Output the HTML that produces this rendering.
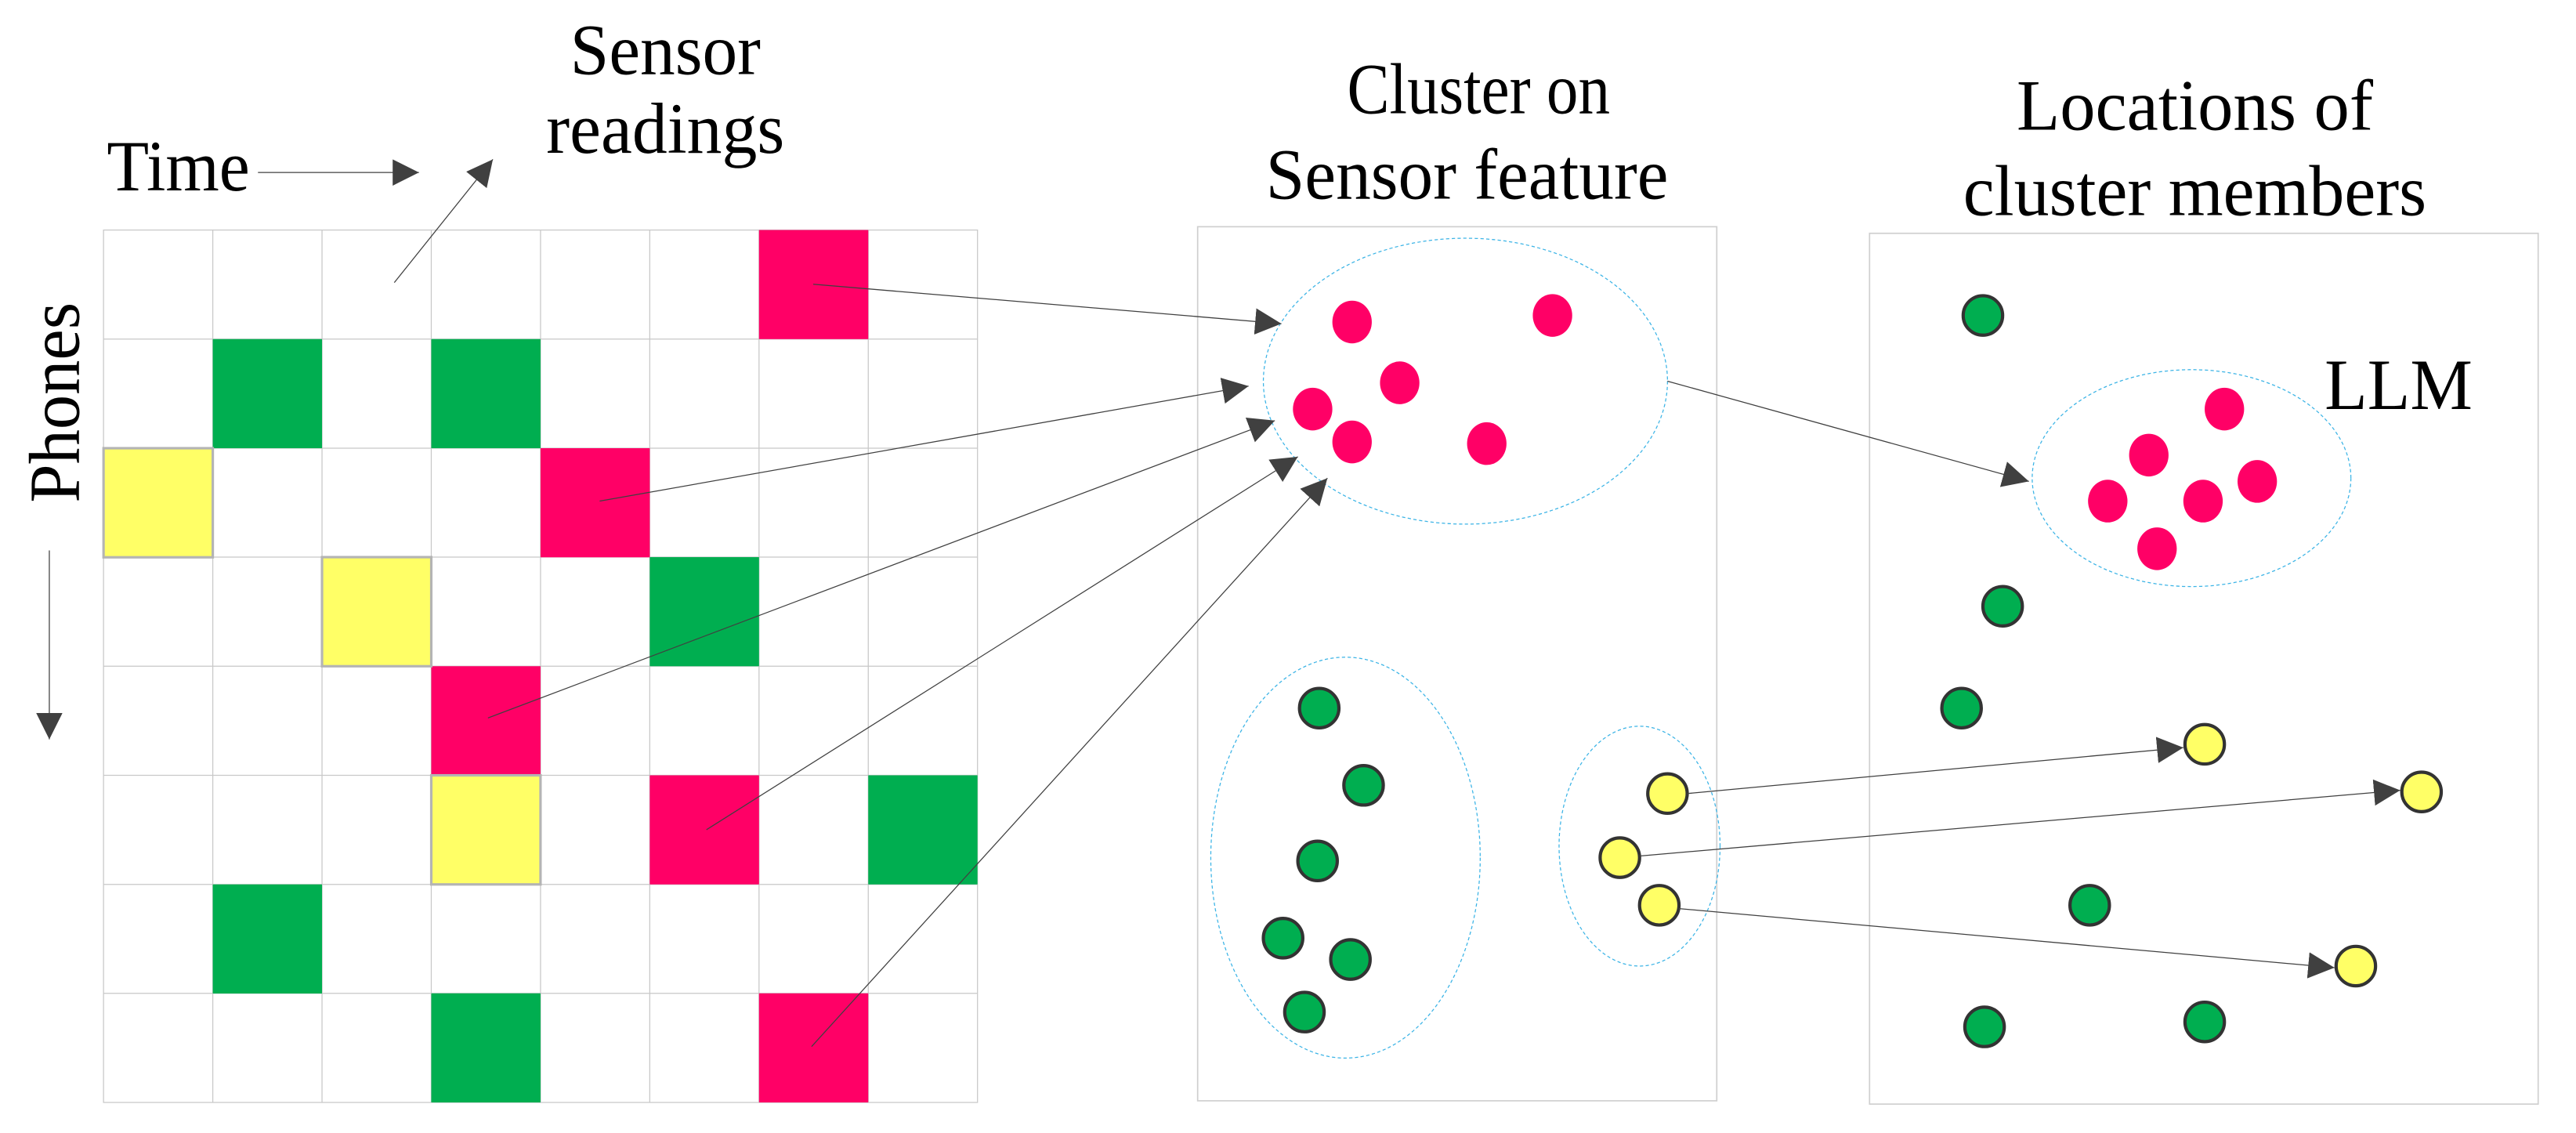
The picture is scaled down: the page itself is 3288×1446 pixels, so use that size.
<!DOCTYPE html>
<html><head><meta charset="utf-8"><style>html,body{margin:0;padding:0;background:#fff}svg{display:block}</style></head><body>
<svg width="3288" height="1446" viewBox="0 0 1568 689.6" xmlns="http://www.w3.org/2000/svg" font-family="Liberation Serif, serif">
<defs>
<marker id="a" viewBox="0 0 10 10" refX="10" refY="5" markerWidth="16" markerHeight="16" markerUnits="userSpaceOnUse" orient="auto"><path d="M0,0 L10,5 L0,10 z" fill="#404040"/></marker>
</defs>
<g stroke="#c8c8c8" stroke-width="0.6" fill="none">
<rect x="63" y="140" width="532" height="531"/>
<path d="M129.5 140V671M196 140V671M262.5 140V671M329 140V671M395.5 140V671M462 140V671M528.5 140V671"/>
<path d="M63 206.4H595M63 272.8H595M63 339.1H595M63 405.5H595M63 471.9H595M63 538.3H595M63 604.6H595"/>
</g>
<g fill="#FF0066">
<rect x="462" y="140" width="66.5" height="66.4"/>
<rect x="329" y="272.8" width="66.5" height="66.4"/>
<rect x="262.5" y="405.5" width="66.5" height="66.4"/>
<rect x="395.5" y="471.9" width="66.5" height="66.4"/>
<rect x="462" y="604.6" width="66.5" height="66.4"/>
</g>
<g fill="#00AE50">
<rect x="129.5" y="206.4" width="66.5" height="66.4"/>
<rect x="262.5" y="206.4" width="66.5" height="66.4"/>
<rect x="395.5" y="339.1" width="66.5" height="66.4"/>
<rect x="528.5" y="471.9" width="66.5" height="66.4"/>
<rect x="129.5" y="538.3" width="66.5" height="66.4"/>
<rect x="262.5" y="604.6" width="66.5" height="66.4"/>
</g>
<g fill="#FFFF66" stroke="#b4b4b4" stroke-width="1.5">
<rect x="63" y="272.8" width="66.5" height="66.4"/>
<rect x="196" y="339.1" width="66.5" height="66.4"/>
<rect x="262.5" y="471.9" width="66.5" height="66.4"/>
</g>
<g font-size="44" fill="#000">
<text x="65" y="116" textLength="87" lengthAdjust="spacingAndGlyphs">Time</text>
<text x="405" y="45" text-anchor="middle" textLength="116" lengthAdjust="spacingAndGlyphs">Sensor</text>
<text x="405" y="93" text-anchor="middle" textLength="145" lengthAdjust="spacingAndGlyphs">readings</text>
<text transform="translate(48,245) rotate(-90)" text-anchor="middle" textLength="122" lengthAdjust="spacingAndGlyphs">Phones</text>
<text x="900" y="69" text-anchor="middle" textLength="160" lengthAdjust="spacingAndGlyphs">Cluster on</text>
<text x="893" y="121" text-anchor="middle" textLength="245" lengthAdjust="spacingAndGlyphs">Sensor feature</text>
<text x="1336" y="79" text-anchor="middle" textLength="217" lengthAdjust="spacingAndGlyphs">Locations of</text>
<text x="1336" y="131" text-anchor="middle" textLength="282" lengthAdjust="spacingAndGlyphs">cluster members</text>
<text x="1415" y="249" textLength="90" lengthAdjust="spacingAndGlyphs">LLM</text>
</g>
<g stroke="#404040" stroke-width="0.6" fill="none" marker-end="url(#a)">
<line x1="157" y1="105" x2="255" y2="105"/>
<line x1="240" y1="172" x2="300" y2="97"/>
<line x1="30" y1="335" x2="30" y2="450"/>
</g>
<rect x="729" y="138" width="316" height="532" fill="none" stroke="#cfcfcf" stroke-width="0.8"/>
<rect x="1138" y="142" width="407" height="530" fill="none" stroke="#cfcfcf" stroke-width="0.8"/>
<g fill="none" stroke="#3cb4e6" stroke-width="0.6" stroke-dasharray="2,1.5">
<ellipse cx="892" cy="232" rx="123" ry="87"/>
<ellipse cx="819" cy="522" rx="82" ry="122"/>
<ellipse cx="998" cy="515" rx="49" ry="73"/>
<ellipse cx="1334" cy="291" rx="97" ry="66"/>
</g>
<g fill="#FF0066">
<ellipse cx="823" cy="196" rx="12" ry="13"/><ellipse cx="945" cy="192" rx="12" ry="13"/>
<ellipse cx="852" cy="233" rx="12" ry="13"/><ellipse cx="799" cy="249" rx="12" ry="13"/>
<ellipse cx="823" cy="269" rx="12" ry="13"/><ellipse cx="905" cy="270" rx="12" ry="13"/>
<ellipse cx="1354" cy="249" rx="12" ry="13"/><ellipse cx="1308" cy="277" rx="12" ry="13"/>
<ellipse cx="1374" cy="293" rx="12" ry="13"/><ellipse cx="1283" cy="305" rx="12" ry="13"/>
<ellipse cx="1341" cy="305" rx="12" ry="13"/><ellipse cx="1313" cy="334" rx="12" ry="13"/>
</g>
<g fill="#00AE50" stroke="#333" stroke-width="2">
<circle cx="803" cy="431" r="12"/><circle cx="830" cy="478" r="12"/><circle cx="802" cy="524" r="12"/>
<circle cx="781" cy="571" r="12"/><circle cx="822" cy="584" r="12"/><circle cx="794" cy="616" r="12"/>
<circle cx="1207" cy="192" r="12"/><circle cx="1219" cy="369" r="12"/><circle cx="1194" cy="431" r="12"/>
<circle cx="1272" cy="551" r="12"/><circle cx="1208" cy="625" r="12"/><circle cx="1342" cy="622" r="12"/>
</g>
<g fill="#FFFF66" stroke="#333" stroke-width="2">
<circle cx="1015" cy="483" r="12"/><circle cx="986" cy="522" r="12"/><circle cx="1010" cy="551" r="12"/>
<circle cx="1342" cy="453" r="12"/><circle cx="1474" cy="482" r="12"/><circle cx="1434" cy="588" r="12"/>
</g>
<g stroke="#404040" stroke-width="0.6" fill="none" marker-end="url(#a)">
<line x1="495" y1="173" x2="780" y2="197"/>
<line x1="365" y1="305" x2="760" y2="235"/>
<line x1="297" y1="437" x2="776" y2="256"/>
<line x1="430" y1="505" x2="790" y2="278"/>
<line x1="494" y1="637" x2="808" y2="291"/>
<line x1="1015" y1="232" x2="1235" y2="293"/>
<line x1="1027" y1="483" x2="1329" y2="455"/>
<line x1="998" y1="521" x2="1461" y2="481"/>
<line x1="1022" y1="553" x2="1421" y2="589"/>
</g>
</svg>
</body></html>
